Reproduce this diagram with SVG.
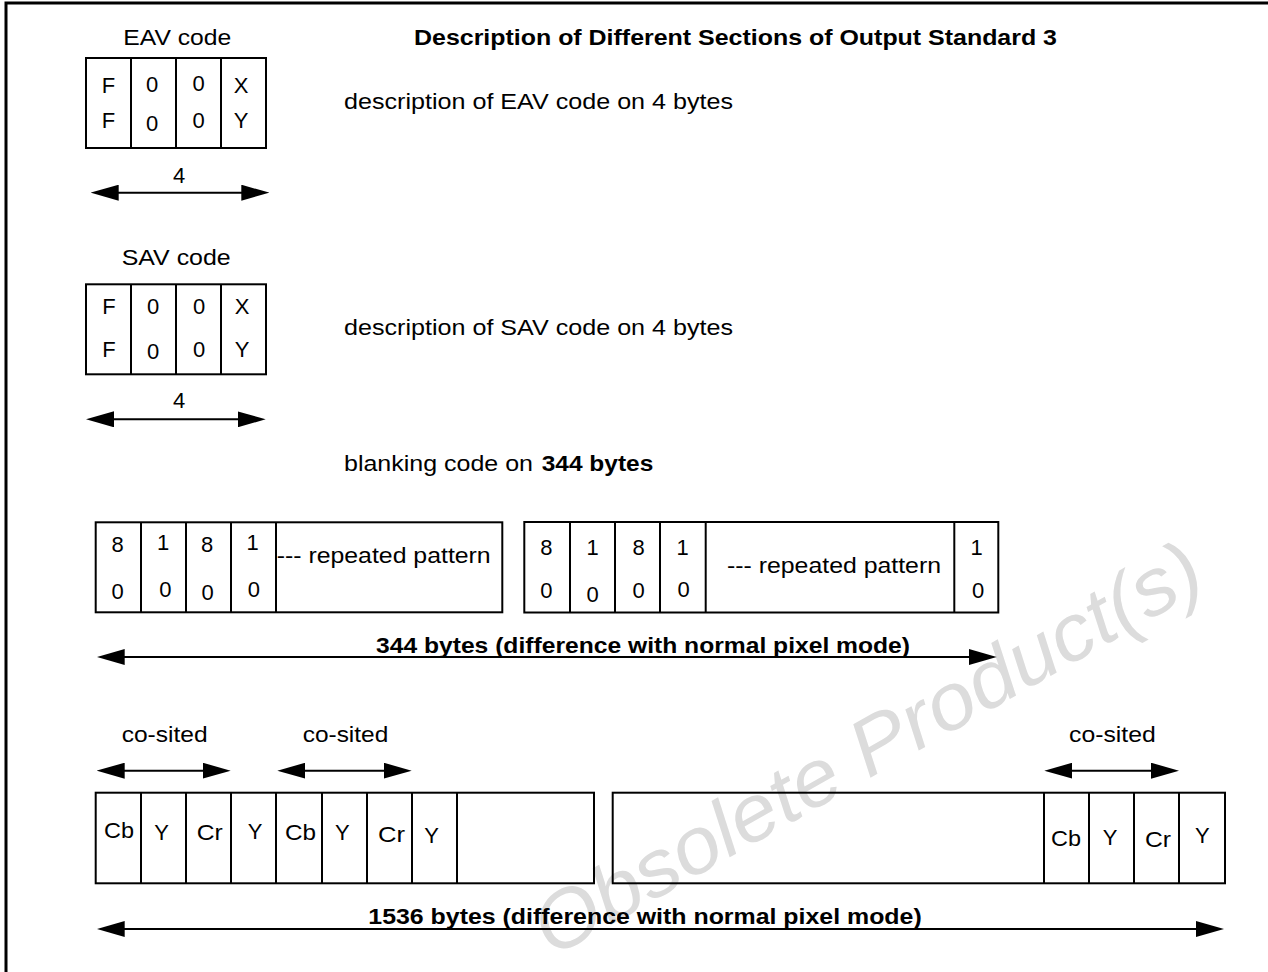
<svg xmlns="http://www.w3.org/2000/svg" width="1268" height="972" viewBox="0 0 1268 972">
<style>
.t{font-family:"Liberation Sans",Arial,Helvetica,sans-serif;font-size:22px;fill:#000}
.b{font-weight:bold}
.m{text-anchor:middle}
.box{fill:none;stroke:#000;stroke-width:2}
.div{stroke:#000;stroke-width:2}
.arr{stroke:#000;stroke-width:2;marker-start:url(#ah);marker-end:url(#ah)}
.wm{font-family:"Liberation Sans",Arial,sans-serif;font-size:80px;font-style:italic;fill:#dcdcdc}
</style>
<defs>
<marker id="ah" markerUnits="userSpaceOnUse" markerWidth="28" markerHeight="16" refX="18" refY="8" orient="auto-start-reverse" viewBox="0 0 28 16">
<path d="M0,0 L28,8 L0,16 Z" fill="#000"/>
</marker>
</defs>
<rect x="0" y="0" width="1268" height="972" fill="#fff"/>
<rect x="6" y="3" width="1300" height="1000" fill="none" stroke="#000" stroke-width="3"/>

<g id="watermark"><text class="wm" transform="translate(552,958) rotate(-29.5)" textLength="755" lengthAdjust="spacingAndGlyphs">Obsolete Product(s)</text></g>

<g id="title"><text class="t b" x="414" y="45" textLength="643" lengthAdjust="spacingAndGlyphs">Description of Different Sections of Output Standard 3</text></g>

<g id="eav">
<text class="t" x="123.3" y="45" textLength="108" lengthAdjust="spacingAndGlyphs">EAV code</text>
<rect class="box" x="86" y="58" width="180" height="90"/>
<line class="div" x1="131" y1="58" x2="131" y2="148"/>
<line class="div" x1="176" y1="58" x2="176" y2="148"/>
<line class="div" x1="221" y1="58" x2="221" y2="148"/>
<text class="t m" x="108.5" y="93">F</text>
<text class="t m" x="152" y="92">0</text>
<text class="t m" x="198.5" y="90.7">0</text>
<text class="t m" x="241" y="93">X</text>
<text class="t m" x="108.5" y="128">F</text>
<text class="t m" x="152" y="130.7">0</text>
<text class="t m" x="198.5" y="128.3">0</text>
<text class="t m" x="241" y="128">Y</text>
</g>
<g id="eav-desc"><text class="t" x="344" y="109" textLength="389" lengthAdjust="spacingAndGlyphs">description of EAV code on 4 bytes</text></g>
<g id="eav-len"><text class="t m" x="179" y="183">4</text></g>

<g id="sav">
<text class="t" x="121.7" y="265" textLength="109" lengthAdjust="spacingAndGlyphs">SAV code</text>
<rect class="box" x="86" y="284.3" width="180" height="90"/>
<line class="div" x1="131" y1="284.3" x2="131" y2="374.3"/>
<line class="div" x1="176" y1="284.3" x2="176" y2="374.3"/>
<line class="div" x1="221" y1="284.3" x2="221" y2="374.3"/>
<text class="t m" x="109" y="314.3">F</text>
<text class="t m" x="153" y="314.3">0</text>
<text class="t m" x="199" y="314.3">0</text>
<text class="t m" x="242" y="314.3">X</text>
<text class="t m" x="109" y="356.7">F</text>
<text class="t m" x="153" y="359.3">0</text>
<text class="t m" x="199" y="356.7">0</text>
<text class="t m" x="242" y="356.7">Y</text>
</g>
<g id="sav-desc"><text class="t" x="344" y="335" textLength="389" lengthAdjust="spacingAndGlyphs">description of SAV code on 4 bytes</text></g>
<g id="sav-len"><text class="t m" x="179" y="407.7">4</text></g>

<g id="blank-desc">
<text class="t" x="344" y="470.7" textLength="189" lengthAdjust="spacingAndGlyphs">blanking code on</text>
<text class="t b" x="541.7" y="470.7" textLength="111.6" lengthAdjust="spacingAndGlyphs">344 bytes</text>
</g>

<g id="blank1">
<rect class="box" x="95.7" y="522.3" width="406.6" height="90"/>
<line class="div" x1="141" y1="522.3" x2="141" y2="612.3"/>
<line class="div" x1="186" y1="522.3" x2="186" y2="612.3"/>
<line class="div" x1="231" y1="522.3" x2="231" y2="612.3"/>
<line class="div" x1="276" y1="522.3" x2="276" y2="612.3"/>
<text class="t m" x="117.5" y="552.3">8</text>
<text class="t m" x="117.5" y="599">0</text>
<text class="t m" x="163" y="550">1</text>
<text class="t m" x="165.3" y="596.7">0</text>
<text class="t m" x="207" y="552.3">8</text>
<text class="t m" x="207.7" y="600">0</text>
<text class="t m" x="252.5" y="550">1</text>
<text class="t m" x="253.8" y="596.7">0</text>
<text class="t" x="276.7" y="562.7" textLength="214" lengthAdjust="spacingAndGlyphs">--- repeated pattern</text>
</g>

<g id="blank2">
<rect class="box" x="524.3" y="522" width="474" height="90.5"/>
<line class="div" x1="570" y1="522" x2="570" y2="612.5"/>
<line class="div" x1="615" y1="522" x2="615" y2="612.5"/>
<line class="div" x1="660" y1="522" x2="660" y2="612.5"/>
<line class="div" x1="705.7" y1="522" x2="705.7" y2="612.5"/>
<line class="div" x1="954.3" y1="522" x2="954.3" y2="612.5"/>
<text class="t m" x="546.3" y="555">8</text>
<text class="t m" x="546.3" y="598.3">0</text>
<text class="t m" x="592.5" y="555">1</text>
<text class="t m" x="592.7" y="601.7">0</text>
<text class="t m" x="638.5" y="555">8</text>
<text class="t m" x="638.5" y="598.3">0</text>
<text class="t m" x="682.5" y="555">1</text>
<text class="t m" x="683.7" y="597.3">0</text>
<text class="t" x="727" y="573" textLength="214" lengthAdjust="spacingAndGlyphs">--- repeated pattern</text>
<text class="t m" x="976.7" y="555">1</text>
<text class="t m" x="978" y="598.3">0</text>
</g>
<g id="blank-len"><text class="t b" x="376" y="653.3" textLength="534" lengthAdjust="spacingAndGlyphs">344 bytes (difference with normal pixel mode)</text></g>

<g id="cosited-labels">
<text class="t" x="121.7" y="741.7" textLength="86" lengthAdjust="spacingAndGlyphs">co-sited</text>
<text class="t" x="302.7" y="741.7" textLength="85.6" lengthAdjust="spacingAndGlyphs">co-sited</text>
<text class="t" x="1069" y="741.7" textLength="86.7" lengthAdjust="spacingAndGlyphs">co-sited</text>
</g>

<g id="pix1">
<rect class="box" x="95.7" y="792.7" width="498.3" height="90.6"/>
<line class="div" x1="141" y1="792.7" x2="141" y2="883.3"/>
<line class="div" x1="186" y1="792.7" x2="186" y2="883.3"/>
<line class="div" x1="231" y1="792.7" x2="231" y2="883.3"/>
<line class="div" x1="276" y1="792.7" x2="276" y2="883.3"/>
<line class="div" x1="322" y1="792.7" x2="322" y2="883.3"/>
<line class="div" x1="367" y1="792.7" x2="367" y2="883.3"/>
<line class="div" x1="412" y1="792.7" x2="412" y2="883.3"/>
<line class="div" x1="457" y1="792.7" x2="457" y2="883.3"/>
<text class="t" x="104" y="838" textLength="30" lengthAdjust="spacingAndGlyphs">Cb</text>
<text class="t m" x="161.7" y="840">Y</text>
<text class="t" x="196.7" y="840" textLength="26" lengthAdjust="spacingAndGlyphs">Cr</text>
<text class="t m" x="255" y="839">Y</text>
<text class="t" x="285" y="840" textLength="31" lengthAdjust="spacingAndGlyphs">Cb</text>
<text class="t m" x="342.3" y="840">Y</text>
<text class="t" x="378" y="841.7" textLength="27" lengthAdjust="spacingAndGlyphs">Cr</text>
<text class="t m" x="431.7" y="843.3">Y</text>
</g>

<g id="pix2">
<rect class="box" x="612.7" y="792.7" width="612.3" height="90.6"/>
<line class="div" x1="1044" y1="792.7" x2="1044" y2="883.3"/>
<line class="div" x1="1089" y1="792.7" x2="1089" y2="883.3"/>
<line class="div" x1="1134" y1="792.7" x2="1134" y2="883.3"/>
<line class="div" x1="1179" y1="792.7" x2="1179" y2="883.3"/>
<text class="t" x="1051" y="845.7" textLength="30" lengthAdjust="spacingAndGlyphs">Cb</text>
<text class="t m" x="1110" y="845">Y</text>
<text class="t" x="1145" y="846.7" textLength="26" lengthAdjust="spacingAndGlyphs">Cr</text>
<text class="t m" x="1202.3" y="843.3">Y</text>
</g>
<g id="pix-len"><text class="t b" x="368.3" y="924" textLength="553.4" lengthAdjust="spacingAndGlyphs">1536 bytes (difference with normal pixel mode)</text></g>

<g id="connectors">
<line class="arr" x1="100.7" y1="192.7" x2="259.3" y2="192.7"/>
<line class="arr" x1="96" y1="419.3" x2="255.7" y2="419.3"/>
<line class="arr" x1="106.7" y1="657" x2="986.7" y2="657"/>
<line class="arr" x1="106.7" y1="770.7" x2="220.7" y2="770.7"/>
<line class="arr" x1="287.3" y1="770.7" x2="401.7" y2="770.7"/>
<line class="arr" x1="1054.3" y1="770.7" x2="1169" y2="770.7"/>
<line class="arr" x1="106.7" y1="929" x2="1214" y2="929"/>
</g>
</svg>
